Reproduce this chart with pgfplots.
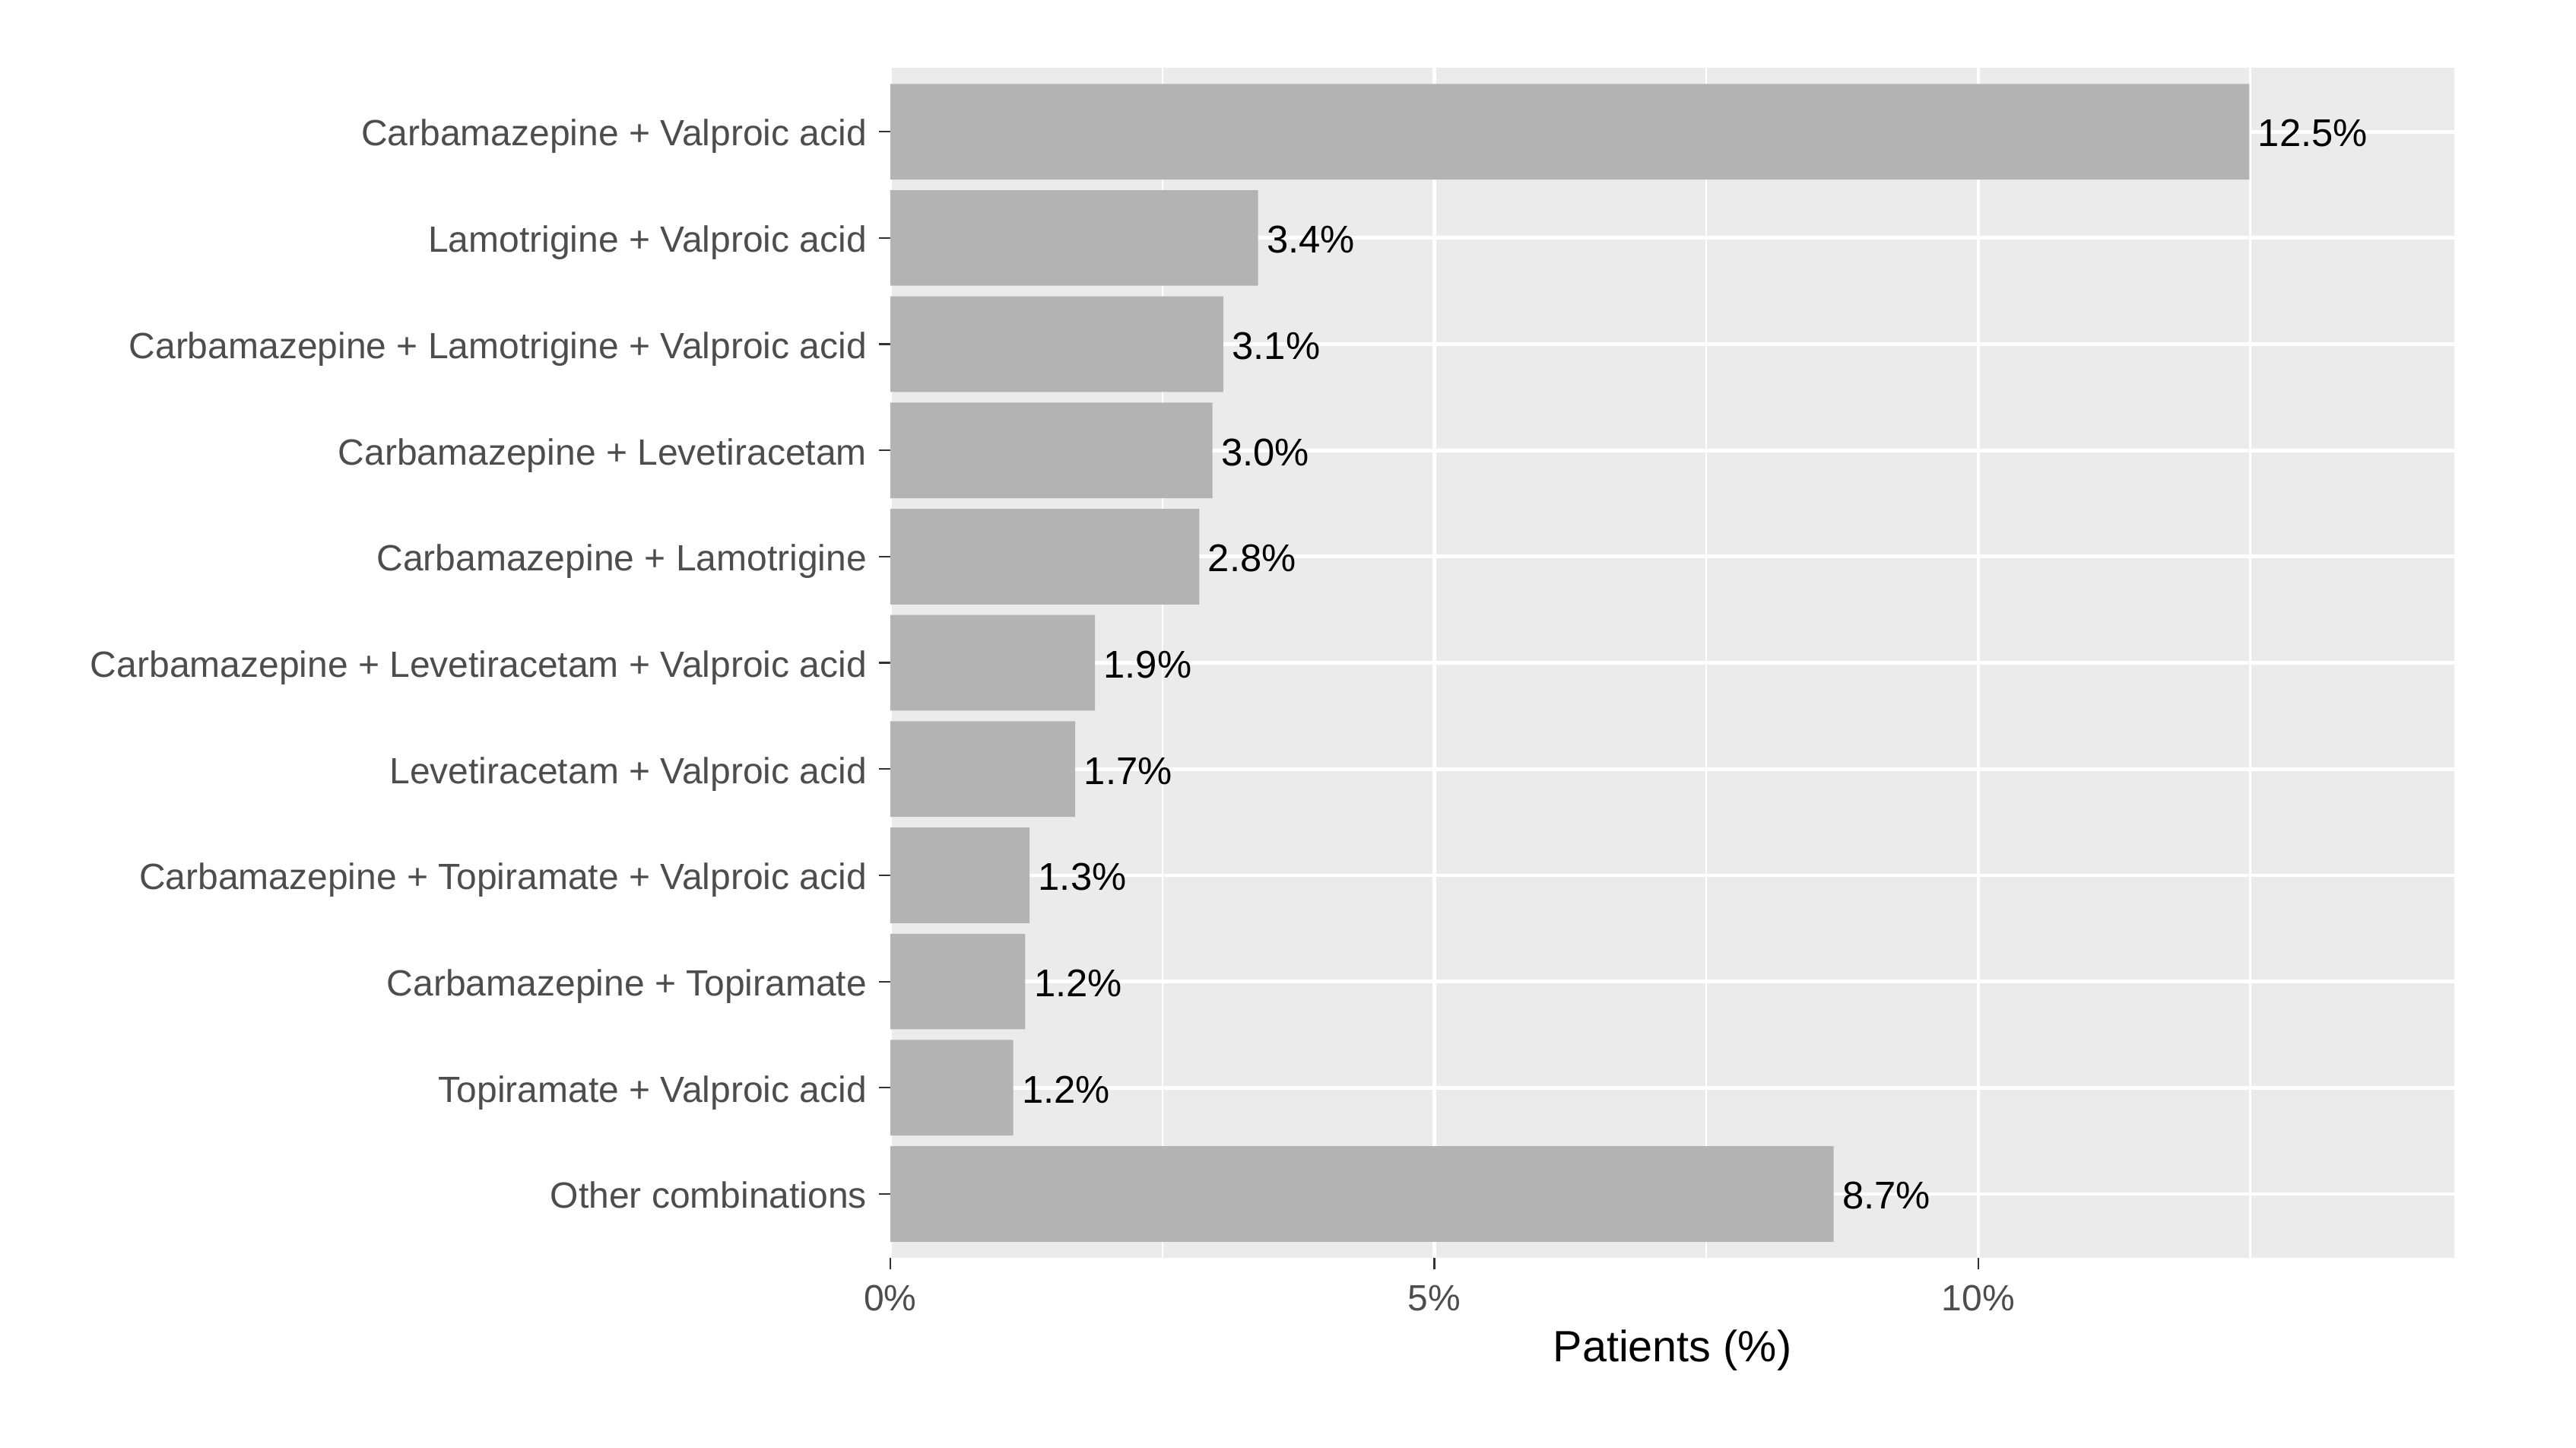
\documentclass[border=0pt]{standalone}
\usepackage{pgfplots}
\usepackage{pgfplotstable}
\pgfplotsset{compat=1.18}
\usepackage{fontspec}
\setmainfont{Liberation Sans}
\definecolor{bg}{HTML}{EBEBEB}
\definecolor{barc}{HTML}{B3B3B3}
\definecolor{g30}{HTML}{4D4D4D}
\definecolor{g20}{HTML}{333333}
\pgfplotstableread{
pos val lab
11 12.49 12.5
10 3.38 3.4
9 3.06 3.1
8 2.96 3.0
7 2.84 2.8
6 1.88 1.9
5 1.70 1.7
4 1.28 1.3
3 1.24 1.2
2 1.13 1.2
1 8.67 8.7
}\data
\begin{document}
\begin{tikzpicture}
\begin{axis}[
  name=ax, at={(0,0)}, anchor=south west,
  scale only axis, width=514.25pt, height=391.1pt,
  xmin=0, xmax=14.375, ymin=0.4, ymax=11.6,
  axis background/.style={fill=bg},
  axis line style={draw=none},
  xtick={0,5,10}, xticklabels={0\%,5\%,10\%},
  minor xtick={2.5,7.5,12.5},
  ytick={1,...,11},
  yticklabels={Other combinations, Topiramate + Valproic acid, Carbamazepine + Topiramate, Carbamazepine + Topiramate + Valproic acid, Levetiracetam + Valproic acid, Carbamazepine + Levetiracetam + Valproic acid, Carbamazepine + Lamotrigine, Carbamazepine + Levetiracetam, Carbamazepine + Lamotrigine + Valproic acid, Lamotrigine + Valproic acid, Carbamazepine + Valproic acid},
  xtick pos=bottom, ytick pos=left,
  tick align=outside, major tick length=3.75pt, minor tick length=0pt,
  major tick style={draw=g20, line width=0.55pt},
  grid=both,
  major grid style={draw=white, line width=1.2pt},
  minor grid style={draw=white, line width=0.6pt},
  ticklabel style={text=g30, font=\fontsize{12}{14}\selectfont},
  yticklabel style={anchor=base east, inner sep=0pt, xshift=-3.8pt, yshift=-4.7pt},
  xticklabel style={anchor=north, inner sep=0pt, yshift=-5.1pt},
  xlabel={Patients (\%)},
  xlabel style={font=\fontsize{14.4}{17}\selectfont, text=black, anchor=center, at={(axis description cs:0.5,0)}, yshift=-30.5pt},
]
\addplot[xbar, bar width=0.9, fill=barc, draw=none,
  point meta=explicit symbolic,
  nodes near coords={\pgfplotspointmeta\%},
  nodes near coords style={anchor=base west, inner sep=0pt, xshift=2.7pt, yshift=-4.95pt, text=black, font=\fontsize{12.7}{15}\selectfont}]
  table[x=val, y=pos, meta=lab] {\data};
\end{axis}
\pgfresetboundingbox
\path[use as bounding box] (-292.75pt,-62.55pt) rectangle (554.25pt,413.45pt);
\end{tikzpicture}
\end{document}
